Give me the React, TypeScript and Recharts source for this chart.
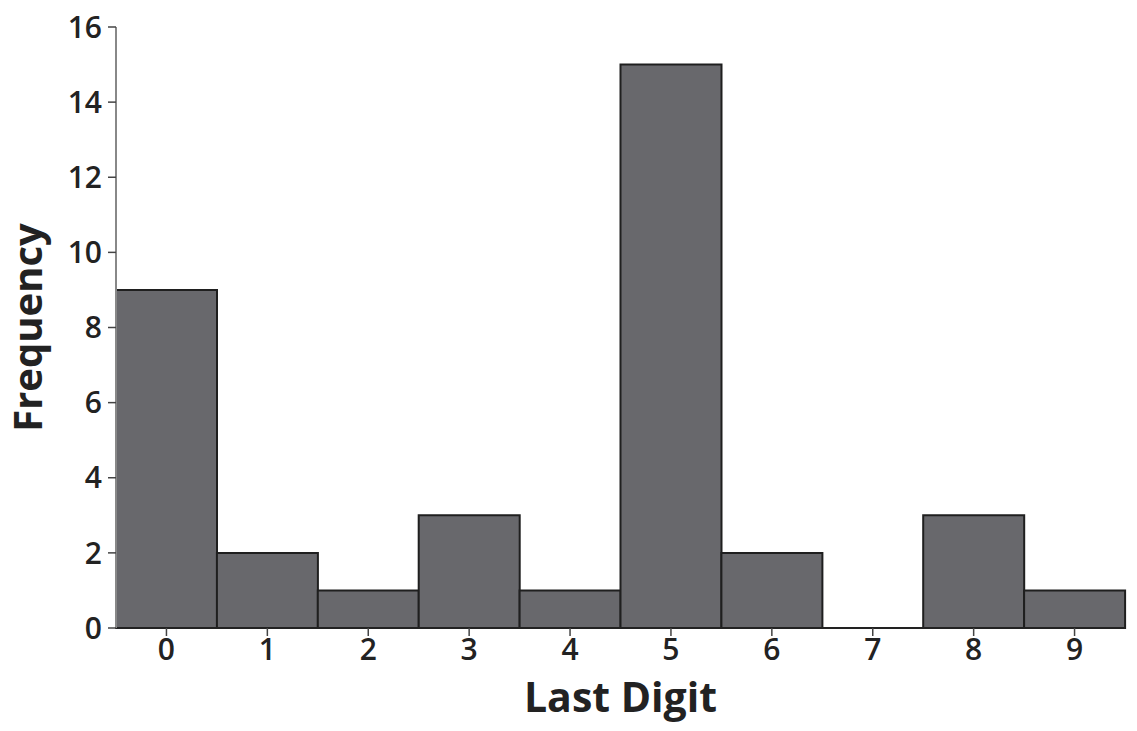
import React from 'react';
import { Bar, BarChart, XAxis, YAxis, Label } from 'recharts';

const digits = ['0', '1', '2', '3', '4', '5', '6', '7', '8', '9'];
const frequency = [9, 2, 1, 3, 1, 15, 2, 0, 3, 1];
const yTicks = [0, 2, 4, 6, 8, 10, 12, 14, 16];

const data = digits.map((d, i) => ({ digit: d, value: frequency[i] }));

const FONT = '"Open Sans", "Noto Sans", sans-serif';
const tickStyle = { fontFamily: FONT, fontSize: 30, fontWeight: 600, fill: '#222' };

const YTitle = ({ viewBox }: any) => {
  const cx = 42;
  const cy = viewBox.y + viewBox.height / 2;
  return (
    <text
      x={cx}
      y={cy}
      transform={`rotate(-90 ${cx} ${cy})`}
      textAnchor="middle"
      style={{ fontFamily: FONT, fontSize: 40, fontWeight: 700, fill: '#222' }}
    >
      Frequency
    </text>
  );
};

const XTitle = ({ viewBox }: any) => {
  const cx = viewBox.x + viewBox.width / 2;
  return (
    <text
      x={cx}
      y={712}
      textAnchor="middle"
      style={{ fontFamily: FONT, fontSize: 41, fontWeight: 700, fill: '#222' }}
    >
      Last Digit
    </text>
  );
};

export default function App() {
  return (
    <div style={{ position: 'absolute', left: 0, top: 0, background: '#fff' }}>
      <BarChart
        width={1137}
        height={731}
        data={data}
        margin={{ top: 27, right: 12, left: 0, bottom: 0 }}
        barCategoryGap={0}
        barGap={0}
      >
        <XAxis
          dataKey="digit"
          height={103}
          tick={tickStyle}
          tickSize={8}
          tickMargin={3}
          axisLine={{ stroke: '#222', strokeWidth: 2 }}
          tickLine={{ stroke: '#444', strokeWidth: 1.5 }}
        >
          <Label content={<XTitle />} />
        </XAxis>
        <XAxis
          xAxisId="top"
          dataKey="digit"
          orientation="top"
          height={0}
          tick={false}
          tickLine={false}
          axisLine={{ stroke: '#222', strokeWidth: 2 }}
        />
        <YAxis
          width={116}
          domain={[0, 16]}
          ticks={yTicks}
          interval={0}
          tick={tickStyle}
          tickSize={8}
          tickMargin={6}
          axisLine={{ stroke: '#888', strokeWidth: 2 }}
          tickLine={{ stroke: '#444', strokeWidth: 1.5 }}
        >
          <Label content={<YTitle />} />
        </YAxis>
        <YAxis
          yAxisId="right"
          orientation="right"
          width={0}
          domain={[0, 16]}
          tick={false}
          tickLine={false}
          axisLine={{ stroke: '#888', strokeWidth: 2 }}
        />
        <Bar
          dataKey="value"
          fill="#68686c"
          stroke="#1f1f1f"
          strokeWidth={2}
          isAnimationActive={false}
        />
      </BarChart>
    </div>
  );
}
